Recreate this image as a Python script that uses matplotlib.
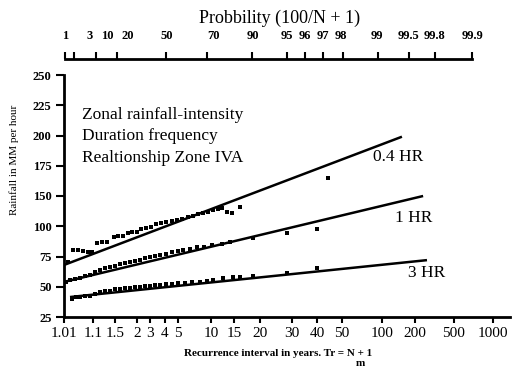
#importar librerias para graficas
import numpy as np
import matplotlib
matplotlib.use("Agg")
from matplotlib import pyplot as plt
from matplotlib.ticker import FixedLocator, FixedFormatter, NullFormatter

plt.rcParams['font.family'] = ['Liberation Serif', 'DejaVu Serif']

#datos de lluvia 0.4 HR (periodo de retorno en años, intensidad mm/h)
t_04 = [1.022, 1.037, 1.052, 1.068, 1.084, 1.097, 1.164, 1.249, 1.340, 1.479,
        1.560, 1.666, 1.777, 1.874, 2.0, 2.266, 2.649, 3.058, 3.366, 3.705,
        4.07, 4.51, 4.91, 5.44, 6.17, 6.85, 7.61, 8.45, 9.39, 10.36,
        11.31, 12.14, 13.26, 14.48, 16.03, 44.1]
r_04 = [70.5, 80.4, 80.4, 79.5, 78.7, 78.7, 86.2, 87.0, 87.0, 91.1,
        91.9, 91.9, 94.4, 95.2, 95.2, 97.7, 98.6, 99.4, 103.7, 105.4,
        107.0, 108.7, 110.3, 112.0, 115.3, 117.0, 120.2, 121.9, 123.6, 126.9,
        128.5, 130.2, 123.6, 121.9, 131.8, 164.9]

#datos 1 HR
t_1 = [1.016, 1.028, 1.043, 1.059, 1.074, 1.090, 1.131, 1.214, 1.303, 1.398,
       1.5, 1.601, 1.710, 1.825, 1.949, 2.196, 2.567, 3.0, 3.303, 3.635,
       4.07, 4.51, 5.0, 5.555, 6.43, 7.45, 8.63, 10.18, 12.14, 13.98,
       18.51, 28.2, 40.0]
r_1 = [53.9, 55.6, 56.4, 57.2, 58.9, 59.7, 62.2, 63.8, 65.5, 66.3,
       67.1, 68.8, 69.6, 70.5, 71.3, 72.1, 73.8, 74.6, 75.4, 76.2,
       77.1, 78.7, 79.5, 80.4, 81.2, 82.9, 82.9, 84.5, 85.3, 87.0,
       90.3, 94.4, 97.7]

#datos 3 HR
t_3 = [1.034, 1.046, 1.059, 1.074, 1.090, 1.131, 1.214, 1.303, 1.398, 1.5,
       1.601, 1.710, 1.825, 1.949, 2.196, 2.567, 3.0, 3.303, 3.635, 4.07,
       4.51, 5.0, 5.79, 6.71, 7.94, 9.20, 10.36, 12.36, 14.74, 16.03,
       18.51, 28.2, 40.0]
r_3 = [39.9, 41.5, 41.5, 42.4, 42.4, 44.0, 45.7, 46.5, 46.5, 48.1,
       48.1, 49.0, 49.0, 49.8, 49.8, 50.6, 50.6, 51.4, 51.4, 52.3,
       52.3, 53.1, 53.1, 53.9, 53.9, 54.8, 55.6, 57.2, 58.1, 58.1,
       58.9, 61.4, 65.5]

#rectas de ajuste (extremos)
t_04_recta = [1.01, 152]
r_04_recta = [68, 199]
t_1_recta = [1.01, 242]
r_1_recta = [54, 150]
t_3_recta = [1.028, 265]
r_3_recta = [41.5, 72]

#escala del eje de periodos de retorno (papel de probabilidad)
x_ticks = [1.01, 1.1, 1.5, 2, 3, 4, 5, 10, 15, 20, 30, 40, 50, 100, 200, 500, 1000]
x_etiquetas = ["1.01", "1.1", "1.5", "2", "3", "4", "5", "10", "15", "20",
               "30", "40", "50", "100", "200", "500", "1000"]
x_pix = [64, 93, 115, 137, 150, 165, 178, 211, 234, 260, 292, 317, 342, 382, 415, 454, 493]

#escala del eje de lluvia
y_ticks = [25, 50, 75, 100, 150, 175, 200, 225, 250]

#eje superior de probabilidad
p_etiquetas = ["1", "3", "10", "20", "50", "70", "90", "95", "96", "97", "98",
               "99", "99.5", "99.8", "99.9"]
p_marcas = [65, 74, 96, 117, 166, 207, 252, 287, 305, 323, 343, 378, 409, 435, 472]
p_textos = [65, 90, 107, 128, 167, 213, 253, 287, 305, 323, 341, 377, 408, 434, 472]

W, H = 518, 370

lx = np.log10(x_ticks)
px = np.array(x_pix, dtype=float)
lx_ext = np.concatenate([[lx[0] - 1], lx, [lx[-1] + 1]])
px_ext = np.concatenate([[px[0] - (px[1] - px[0]) / (lx[1] - lx[0])], px,
                         [px[-1] + (px[-1] - px[-2]) / (lx[-1] - lx[-2])]])

def fx(t):
    return np.interp(np.log10(np.clip(t, 1e-6, None)), lx_ext, px_ext)

def fx_inv(p):
    return 10 ** np.interp(p, px_ext, lx_ext)

y_idx = np.arange(len(y_ticks), dtype=float)

def fy(v):
    return np.interp(v, y_ticks, y_idx)

def fy_inv(i):
    return np.interp(i, y_idx, y_ticks)

fig = plt.figure(figsize=(W / 100, H / 100), dpi=100)

#grafica principal
x0, x1, yb, yt = 64, 510, 317, 75
ax = fig.add_axes([x0 / W, (H - yb) / H, (x1 - x0) / W, (yb - yt) / H])
ax.set_xscale('function', functions=(fx, fx_inv))
ax.set_yscale('function', functions=(fy, fy_inv))
ax.set_xlim(1.01, fx_inv(x1))
ax.set_ylim(25, 250)

for t, r in [(t_04_recta, r_04_recta), (t_1_recta, r_1_recta), (t_3_recta, r_3_recta)]:
    ax.plot(t, r, color="black", lw=1.8, solid_capstyle="butt")
for t, r in [(t_04, r_04), (t_1, r_1), (t_3, r_3)]:
    ax.plot(t, r, ls="none", marker="s", ms=2.6, color="black", mew=0)

ax.xaxis.set_major_locator(FixedLocator(x_ticks))
ax.xaxis.set_major_formatter(FixedFormatter(x_etiquetas))
ax.xaxis.set_minor_locator(FixedLocator([]))
ax.yaxis.set_major_locator(FixedLocator(y_ticks))
ax.yaxis.set_major_formatter(FixedFormatter([str(v) for v in y_ticks]))
ax.yaxis.set_minor_locator(FixedLocator([]))

for s in ["top", "right"]:
    ax.spines[s].set_visible(False)
for s in ["left", "bottom"]:
    ax.spines[s].set_linewidth(2)
ax.tick_params(axis="x", direction="out", length=4, width=1.5, pad=3, labelsize=11)
ax.tick_params(axis="y", direction="out", length=6, width=1.5, pad=3, labelsize=9)
for lab in ax.get_yticklabels():
    lab.set_fontweight("bold")

#textos dentro de la grafica
for i, linea in enumerate(["Zonal rainfall-intensity", "Duration frequency",
                           "Realtionship Zone IVA"]):
    fig.text(82 / W, 1 - (115 + i * 21.5) / H, linea, fontsize=12.5, va="center", ha="left")
fig.text(373 / W, 1 - 157 / H, "0.4 HR", fontsize=12.5, va="center", ha="left")
fig.text(395 / W, 1 - 218 / H, "1 HR", fontsize=12.5, va="center", ha="left")
fig.text(408 / W, 1 - 273 / H, "3 HR", fontsize=12.5, va="center", ha="left")

#titulos de ejes
fig.text(14 / W, 1 - 160 / H, "Rainfall in MM per hour", rotation=90,
         fontsize=8, va="center", ha="center")
fig.text(278 / W, 1 - 353 / H, "Recurrence interval in years. Tr = N + 1",
         fontsize=8, fontweight="bold", va="center", ha="center")
fig.text(360 / W, 1 - 364 / H, "m", fontsize=8, fontweight="bold", va="center", ha="center")

#eje superior de probabilidad
ax2 = fig.add_axes([0, (H - 59) / H, 1, 0.0001])
ax2.set_xlim(0, W)
ax2.patch.set_visible(False)
for s in ["left", "right", "bottom"]:
    ax2.spines[s].set_visible(False)
ax2.spines["top"].set_linewidth(2)
ax2.spines["top"].set_bounds(p_marcas[0], p_marcas[-1])
ax2.set_yticks([])
ax2.xaxis.tick_top()
ax2.xaxis.remove_overlapping_locs = False
ax2.xaxis.set_major_locator(FixedLocator(p_marcas))
ax2.xaxis.set_major_formatter(NullFormatter())
ax2.xaxis.set_minor_locator(FixedLocator(p_textos))
ax2.xaxis.set_minor_formatter(FixedFormatter(p_etiquetas))
ax2.tick_params(axis="x", which="major", direction="out", length=5, width=1.5)
ax2.tick_params(axis="x", which="minor", length=0, pad=12, labelsize=9)
for lab in ax2.get_xticklabels(minor=True):
    lab.set_fontweight("bold")
fig.text(280 / W, 1 - 18 / H, "Probbility (100/N + 1)", fontsize=13,
         va="center", ha="center")

fig.savefig("out.png", dpi=100)
